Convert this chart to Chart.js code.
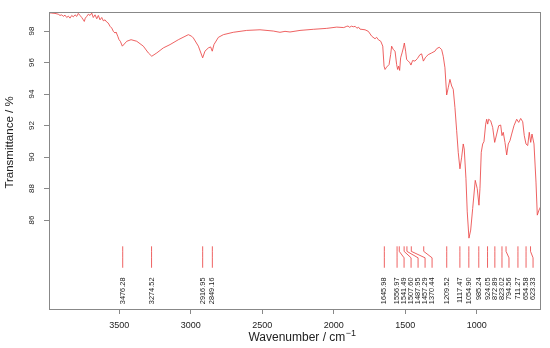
<!DOCTYPE html>
<html><head><meta charset="utf-8">
<script src="https://cdn.jsdelivr.net/npm/chart.js@4"></script>
<style>html,body{margin:0;padding:0;background:#fff}#wrap{width:550px;height:348px}</style>
</head><body><div id="wrap"><canvas id="c" width="550" height="348"></canvas></div>
<script>
const wavenumbers = [3997,3973,3950,3927,3915,3903,3892,3880,3868,3857,3845,3833,3822,3810,3798,3787,3775,3763,3752,3745,3738,3728,3717,3705,3693,3682,3670,3658,3647,3635,3623,3612,3600,3588,3577,3565,3553,3542,3530,3523,3511,3502,3493,3479,3448,3418,3378,3332,3297,3273,3238,3192,3145,3087,3017,2994,2982,2947,2917,2901,2877,2861,2850,2838,2807,2772,2703,2609,2516,2423,2376,2341,2306,2236,2143,2049,1979,1930,1909,1900,1890,1875,1863,1850,1838,1826,1816,1781,1758,1734,1711,1700,1688,1671,1657,1648,1641,1630,1613,1602,1595,1583,1571,1560,1553,1546,1539,1532,1522,1513,1506,1497,1490,1478,1467,1460,1448,1432,1415,1397,1385,1373,1357,1339,1315,1292,1280,1262,1245,1234,1222,1210,1199,1187,1175,1164,1152,1140,1129,1117,1105,1094,1087,1075,1066,1054,1042,1028,1010,996,984,977,968,958,949,937,930,923,916,902,888,874,860,846,832,823,814,802,790,779,767,755,739,720,706,692,678,667,655,643,632,622,613,599,585,576,564,550];
const transmittance = [99.16,99.14,99.12,99.07,98.99,99.03,98.93,99.01,98.86,98.95,98.82,98.99,98.90,99.03,98.93,99.12,98.99,98.86,98.71,98.61,98.82,98.93,99.07,98.99,99.14,98.86,99.03,98.78,98.99,98.71,98.86,98.65,98.71,98.57,98.50,98.30,98.19,97.98,97.87,97.94,97.67,97.45,97.35,97.04,97.35,97.45,97.35,97.04,96.61,96.40,96.61,96.93,97.14,97.45,97.77,97.67,97.56,97.04,96.30,96.72,96.93,96.99,96.72,97.14,97.60,97.77,97.92,98.04,98.08,98.00,97.92,97.98,97.94,98.04,98.11,98.17,98.25,98.22,98.30,98.32,98.24,98.31,98.27,98.30,98.18,98.24,98.12,98.08,97.98,97.67,97.51,97.60,97.45,97.35,97.04,95.77,95.56,95.71,95.87,96.50,97.04,96.82,96.72,95.87,95.56,95.77,95.50,96.30,96.61,96.93,97.24,96.72,96.19,96.09,95.98,95.84,96.13,96.09,96.25,96.50,96.55,96.09,96.34,96.50,96.61,96.72,96.88,96.97,96.82,96.40,95.67,93.94,94.40,94.93,94.51,94.30,93.14,91.67,90.30,89.25,89.99,90.83,90.51,88.62,86.52,84.85,85.36,86.73,88.52,87.99,86.94,87.99,90.30,90.83,90.98,92.09,92.40,92.09,92.40,92.30,91.88,90.93,91.46,91.99,92.03,91.36,91.57,90.93,90.13,90.83,91.04,91.46,91.99,92.40,92.20,92.45,92.24,91.36,90.83,90.73,91.57,90.93,91.46,90.83,88.41,86.31,86.63,86.90];
const xTicks = [3500,3000,2500,2000,1500,1000];
const yTicks = [86,88,90,92,94,96,98];
const peakPositions = [3476.28,3274.52,2916.95,2849.16,1645.98,1556.97,1541.49,1507.60,1487.95,1457.29,1370.44,1209.52,1117.47,1054.90,985.24,924.05,872.89,823.02,794.56,711.27,654.58,623.33];
const peakLabels = ['3476.28','3274.52','2916.95','2849.16','1645.98','1556.97','1541.49','1507.60','1487.95','1457.29','1370.44','1209.52','1117.47','1054.90','985.24','924.05','872.89','823.02','794.56','711.27','654.58','623.33'];

const RED = 'rgba(235,70,70,0.85)';
const FONT = "'Liberation Sans', Arial, Helvetica, sans-serif";
// marker levels (in transmittance units) for the peak tick lines
const markerLevels = [84.33, 84.01, 83.60, 82.97];
const labelTopLevel = 82.35;
const minLabelGap = 7;

const frame = {
  id: 'frame',
  afterDraw(chart) {
    const {ctx, chartArea: a} = chart;
    ctx.save();
    ctx.strokeStyle = '#888';
    ctx.lineWidth = 1;
    ctx.strokeRect(Math.round(a.left) + 0.5, Math.round(a.top) + 0.5, Math.round(a.right - a.left) - 1, Math.round(a.bottom - a.top));
    ctx.fillStyle = '#222';
    ctx.font = '11.5px ' + FONT;
    ctx.textAlign = 'center';
    ctx.textBaseline = 'middle';
    ctx.translate(10, 142.5);
    ctx.rotate(-Math.PI / 2);
    ctx.fillText('Transmittance / %', 0, 0);
    ctx.restore();
    ctx.save();
    ctx.fillStyle = '#222';
    ctx.textBaseline = 'alphabetic';
    ctx.textAlign = 'left';
    const main = 'Wavenumber / cm', sup = '\u22121';
    ctx.font = '12px ' + FONT;
    const w1 = ctx.measureText(main).width;
    ctx.font = '9px ' + FONT;
    const w2 = ctx.measureText(sup).width;
    const cx = (a.left + a.right) / 2 + 7;
    const x0 = cx - (w1 + w2) / 2;
    ctx.font = '12px ' + FONT;
    ctx.fillText(main, x0, 341);
    ctx.font = '9px ' + FONT;
    ctx.fillText(sup, x0 + w1 + 0.5, 336);
    ctx.restore();
  }
};

const peaks = {
  id: 'peaks',
  afterDatasetsDraw(chart) {
    const {ctx} = chart;
    const xs = chart.scales.x, ys = chart.scales.y;
    const px = peakPositions.map(v => xs.getPixelForValue(v));
    const lx = [];
    px.forEach((p, i) => { lx.push(i === 0 ? p : Math.max(p, lx[i - 1] + minLabelGap)); });
    const yl = markerLevels.map(v => ys.getPixelForValue(v));
    const yLab = ys.getPixelForValue(labelTopLevel);
    ctx.save();
    ctx.strokeStyle = RED;
    ctx.lineWidth = 1;
    px.forEach((p, i) => {
      ctx.beginPath();
      ctx.moveTo(p, yl[0]);
      ctx.lineTo(p, yl[1]);
      ctx.lineTo(lx[i], yl[2]);
      ctx.lineTo(lx[i], yl[3]);
      ctx.stroke();
    });
    ctx.fillStyle = '#222';
    ctx.font = '7.4px ' + FONT;
    ctx.textAlign = 'right';
    ctx.textBaseline = 'middle';
    lx.forEach((x, i) => {
      ctx.save();
      ctx.translate(x, yLab);
      ctx.rotate(-Math.PI / 2);
      ctx.fillText(peakLabels[i], 0, 0);
      ctx.restore();
    });
    ctx.restore();
  }
};

new Chart(document.getElementById('c'), {
  type: 'line',
  data: {
    datasets: [{
      data: wavenumbers.map((w, i) => ({x: w, y: transmittance[i]})),
      borderColor: RED,
      borderWidth: 1,
      pointRadius: 0,
      tension: 0,
      fill: false
    }]
  },
  options: {
    responsive: false,
    animation: false,
    devicePixelRatio: 1,
    layout: {padding: {top: 9, right: 9, left: 0, bottom: 0}},
    plugins: {legend: {display: false}, tooltip: {enabled: false}},
    scales: {
      x: {
        type: 'linear', reverse: true, min: 550, max: 3992,
        afterBuildTicks: s => { s.ticks = xTicks.map(v => ({value: v})); },
        afterFit: s => { s.height = 39; },
        ticks: {font: {family: FONT, size: 9}, color: '#222', padding: 6, maxRotation: 0, autoSkip: false, callback: v => String(v)},
        grid: {drawOnChartArea: false, drawTicks: true, tickLength: 5, color: '#888', tickColor: '#888'},
        border: {display: false}
      },
      y: {
        type: 'linear', min: 80.35, max: 99.19,
        afterBuildTicks: s => { s.ticks = yTicks.map(v => ({value: v})); },
        afterFit: s => { s.width = 49; },
        ticks: {font: {family: FONT, size: 8}, color: '#222', padding: 7.5, minRotation: 90, maxRotation: 90, crossAlign: 'center', autoSkip: false, callback: v => String(v)},
        grid: {drawOnChartArea: false, drawTicks: true, tickLength: 5, color: '#888', tickColor: '#888'},
        border: {display: false}
      }
    }
  },
  plugins: [frame, peaks]
});
</script>
</body></html>
